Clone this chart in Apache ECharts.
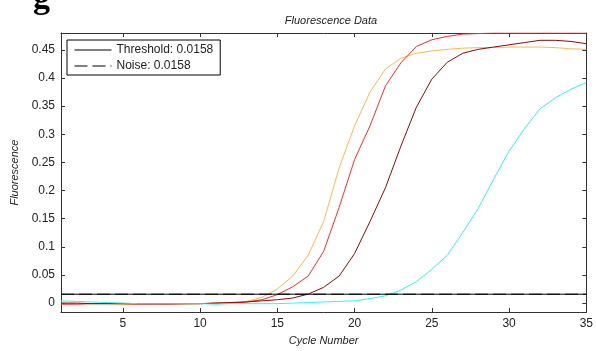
<!DOCTYPE html>
<html>
<head>
<meta charset="utf-8">
<script src="https://cdn.jsdelivr.net/npm/echarts@6/dist/echarts.min.js"></script>
<style>
  html, body { margin: 0; padding: 0; background: #fff; }
  #fluor-chart { width: 596px; height: 351px; }
</style>
</head>
<body>
<div id="fluor-chart"></div>
<script>
// cycle numbers 1..35
const cycles = [1, 2, 3, 4, 5, 6, 7, 8, 9, 10, 11, 12, 13, 14, 15, 16, 17, 18, 19, 20,
    21, 22, 23, 24, 25, 26, 27, 28, 29, 30, 31, 32, 33, 34, 35];

const orangeVals = [0.000, -0.001, -0.001, -0.001, -0.002, -0.002, -0.002, -0.002, -0.002, -0.001,
    0.000, 0.001, 0.003, 0.010, 0.025, 0.048, 0.085, 0.145, 0.240, 0.315,
    0.375, 0.416, 0.435, 0.444, 0.448, 0.451, 0.453, 0.454, 0.454, 0.455,
    0.455, 0.455, 0.454, 0.452, 0.451];
const redVals = [-0.002, -0.002, -0.001, -0.001, -0.001, -0.002, -0.002, -0.002, -0.001, -0.001,
    0.000, 0.000, 0.002, 0.006, 0.015, 0.029, 0.048, 0.092, 0.170, 0.255,
    0.315, 0.386, 0.427, 0.456, 0.468, 0.474, 0.478, 0.479, 0.480, 0.480,
    0.480, 0.480, 0.480, 0.480, 0.480];
const maroonVals = [0.000, 0.000, -0.001, -0.001, -0.001, -0.001, -0.001, -0.001, -0.001, -0.001,
    0.000, 0.001, 0.002, 0.004, 0.006, 0.009, 0.016, 0.028, 0.048, 0.088,
    0.145, 0.205, 0.279, 0.348, 0.398, 0.428, 0.444, 0.451, 0.455, 0.459,
    0.463, 0.467, 0.467, 0.465, 0.461];
const cyanVals = [0.004, 0.003, 0.002, 0.001, 0.000, -0.001, -0.001, -0.001, -0.001, -0.001,
    -0.002, -0.001, -0.001, -0.001, -0.001, 0.000, 0.001, 0.002, 0.003, 0.004,
    0.008, 0.013, 0.023, 0.038, 0.060, 0.085, 0.125, 0.168, 0.220, 0.270,
    0.310, 0.345, 0.365, 0.380, 0.392];

const threshold = 0.0158;
const noise = 0.0158;
const xRange = [1, 35];
const yRange = [-0.016, 0.48];
const xTicks = [5, 10, 15, 20, 25, 30, 35];
const yTicks = [0, 0.05, 0.1, 0.15, 0.2, 0.25, 0.3, 0.35, 0.4, 0.45];

const pairs = (vals) => cycles.map((c, i) => [c, vals[i]]);

const chart = echarts.init(document.getElementById('fluor-chart'));

const axisCommon = {
    axisLine: { show: true, onZero: false, lineStyle: { color: '#333', width: 1 } },
    axisTick: { show: true, inside: true, length: 4, lineStyle: { color: '#333' } },
    splitLine: { show: false },
};
const labelFont = { color: '#222', fontSize: 12, fontFamily: 'Liberation Sans, Arial, sans-serif' };
const nameFont = { color: '#222', fontSize: 11, fontStyle: 'italic', fontFamily: 'Liberation Sans, Arial, sans-serif' };

chart.setOption({
    animation: false,
    title: {
        text: 'Fluorescence Data',
        left: 326,
        top: 10,
        textAlign: 'center',
        textStyle: { ...nameFont, fontWeight: 'normal' },
    },
    graphic: [
        {
            // piece of the figure caption cut off above
            type: 'text',
            left: 33,
            top: -18,
            style: { text: 'g', fontSize: 34, fontWeight: 'bold', fontFamily: 'Liberation Serif, serif', fill: '#000' },
        },
    ],
    grid: { left: 61, right: 5, top: 33, bottom: 31, containLabel: false },
    legend: {
        orient: 'vertical',
        left: 67,
        top: 40,
        data: ['Threshold: 0.0158', 'Noise: 0.0158'],
        itemWidth: 37,
        itemHeight: 14,
        itemGap: 4,
        padding: [4, 7, 3, 7],
        backgroundColor: '#fff',
        borderColor: '#000',
        borderWidth: 1,
        borderRadius: 0,
        itemStyle: { opacity: 0 },
        lineStyle: { width: 1 },
        textStyle: { ...labelFont },
    },
    xAxis: [
        {
            type: 'value',
            min: xRange[0],
            max: xRange[1],
            name: 'Cycle Number',
            nameLocation: 'middle',
            nameGap: 21,
            nameTextStyle: nameFont,
            ...axisCommon,
            axisTick: { ...axisCommon.axisTick, customValues: xTicks },
            axisLabel: { ...labelFont, margin: 6, customValues: xTicks },
        },
        {
            type: 'value',
            position: 'top',
            min: xRange[0],
            max: xRange[1],
            ...axisCommon,
            axisTick: { ...axisCommon.axisTick, customValues: xTicks },
            axisLabel: { show: false, customValues: xTicks },
        },
    ],
    yAxis: [
        {
            type: 'value',
            min: yRange[0],
            max: yRange[1],
            name: 'Fluorescence',
            nameLocation: 'middle',
            nameGap: 36,
            nameTextStyle: nameFont,
            ...axisCommon,
            axisTick: { ...axisCommon.axisTick, customValues: yTicks },
            axisLabel: { ...labelFont, margin: 6, customValues: yTicks },
        },
        {
            type: 'value',
            position: 'right',
            min: yRange[0],
            max: yRange[1],
            ...axisCommon,
            axisTick: { ...axisCommon.axisTick, customValues: yTicks },
            axisLabel: { show: false, customValues: yTicks },
        },
    ],
    series: [
        { name: 'well 1', type: 'line', data: pairs(orangeVals), symbol: 'none', lineStyle: { color: '#FFB84C', width: 1 }, itemStyle: { color: '#FFB84C' } },
        { name: 'well 2', type: 'line', data: pairs(redVals), symbol: 'none', lineStyle: { color: '#FF2A2A', width: 1 }, itemStyle: { color: '#FF2A2A' } },
        { name: 'well 3', type: 'line', data: pairs(maroonVals), symbol: 'none', lineStyle: { color: '#8B0A0A', width: 1 }, itemStyle: { color: '#8B0A0A' } },
        { name: 'well 4', type: 'line', data: pairs(cyanVals), symbol: 'none', lineStyle: { color: '#2EF5F5', width: 1 }, itemStyle: { color: '#2EF5F5' } },
        {
            name: 'Noise: 0.0158',
            type: 'line',
            data: [[xRange[0], noise], [xRange[1], noise]],
            symbol: 'none',
            lineStyle: { color: '#000', width: 1, type: [13, 5] },
            itemStyle: { color: '#000' },
        },
        {
            name: 'Threshold: 0.0158',
            type: 'line',
            data: [[xRange[0], threshold], [xRange[1], threshold]],
            symbol: 'none',
            lineStyle: { color: '#000', width: 1 },
            itemStyle: { color: '#000' },
        },
    ],
});
</script>
</body>
</html>
